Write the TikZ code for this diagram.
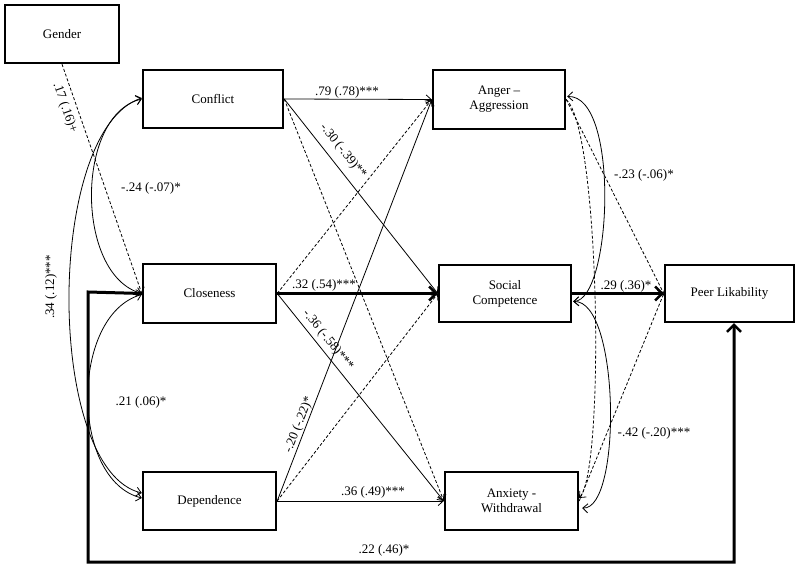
\documentclass[tikz,border=0pt]{standalone}
\usepackage{fontspec}
\setmainfont{Liberation Serif}
\usetikzlibrary{arrows.meta,calc}
\begin{document}
\begin{tikzpicture}[x=1pt,y=-1pt,
  every node/.style={font=\fontsize{13}{15}\selectfont},
  box/.style={draw,line width=2.4pt,minimum width=#1,inner sep=0pt,align=center},
  thin/.style={line width=0.8pt,-{Straight Barb[length=5pt,width=9pt]}},
  dsh/.style={thin,dash pattern=on 3pt off 2pt},
  thick/.style={line width=3pt,-{Straight Barb[length=7pt,width=14pt,line width=2.5pt]}},
  cov/.style={line width=0.8pt,{Straight Barb[length=5pt,width=9pt]}-{Straight Barb[length=5pt,width=9pt]}},
  lab/.style={inner sep=1pt}]
\useasboundingbox (0,0) rectangle (800,569);
% boxes
\node[box=114pt,minimum height=58pt] (gender) at (62,34) {Gender};
\node[box=140pt,minimum height=58pt] (conflict) at (213,99) {Conflict};
\node[box=133pt,minimum height=59pt] (closeness) at (209.5,293.5) {Closeness};
\node[box=133pt,minimum height=58pt] (dependence) at (209.5,501) {Dependence};
\node[box=132pt,minimum height=59pt] (anger) at (499,99.5) {Anger –\\Aggression};
\node[box=132pt,minimum height=57pt] (social) at (505,293.5) {Social\\Competence};
\node[box=133pt,minimum height=58pt] (anxiety) at (511.5,501) {Anxiety -\\Withdrawal};
\node[box=129pt,minimum height=57pt] (peer) at (729.5,293.5) {Peer Likability};
% gender path
\draw[dsh] (gender.south) -- (closeness.west);
\node[lab,rotate=-70.6] (l17) at (65,108) {.17 (.16)+};
% left covariances
\draw[cov] (conflict.west) .. controls (75,115) and (75,275) .. (closeness.west);
\draw[cov] ($(conflict.west)+(0,-1)$) .. controls (45,130) and (45,470) .. ($(dependence.west)+(0,-8)$);
\draw[cov] ($(closeness.west)+(0,1)$) .. controls (70,315) and (70,480) .. ($(dependence.west)+(0,-3)$);
\node[lab] (l24) at (151,188) {-.24 (-.07)*};
\node[lab,rotate=90] (l34) at (51,287) {.34 (.12)***};
\node[lab] (l21) at (141,402) {.21 (.06)*};
% paths from predictors
\draw[thin] (conflict.east) -- (anger.west);
\node[lab] (l79) at (347,92) {.79 (.78)***};
\draw[thin] (conflict.east) -- (social.west);
\node[lab,rotate=-51] (l30) at (343,151) {-.30 (-.39)**};
\draw[dsh] (conflict.east) -- (anxiety.west);
\draw[dsh] (closeness.east) -- (anger.west);
\draw[thick] (closeness.east) -- (social.west);
\node[lab] (l32) at (324,285) {.32 (.54)***};
\draw[thin] (closeness.east) -- (anxiety.west);
\node[lab,rotate=-51] (l36) at (328,340) {-.36 (-.58)***};
\draw[thin] (dependence.east) -- (anger.west);
\node[lab,rotate=68.6] (l20) at (299,425) {-.20 (-.22)*};
\draw[dsh] (dependence.east) -- (social.west);
\draw[thin] (dependence.east) -- (anxiety.west);
\node[lab] (l3649) at (373,492) {.36 (.49)***};
% paths to peer
\draw[thick] (social.east) -- (peer.west);
\node[lab] (l29) at (626,286) {.29 (.36)*};
\draw[dsh] (anger.east) -- (peer.west);
\draw[dsh] (anxiety.east) -- (peer.west);
% right covariances
\draw[cov] ($(anger.east)+(1,-3)$) .. controls (620,95) and (612,300) .. ($(social.east)+(1,8)$);
\draw[cov] ($(social.east)+(1,8)$) .. controls (620,300) and (622,510) .. ($(anxiety.east)+(3,7)$);
\draw[dsh] (anger.east) .. controls (600,130) and (605,470) .. ($(anxiety.east)+(0,-3)$);
\node[lab] (l23) at (644,175) {-.23 (-.06)*};
\node[lab] (l42) at (654,433) {-.42 (-.20)***};
% closeness direct path to peer
\coordinate (c1) at (88,292);
\coordinate (c2) at (88,562);
\coordinate (c3) at (734,562);
\draw[thick] (closeness.west) -- (c1) -- (c2) -- (c3) -- (c3 |- peer.south);
\node[lab] (l22) at (384,550) {.22 (.46)*};
\end{tikzpicture}
\end{document}
